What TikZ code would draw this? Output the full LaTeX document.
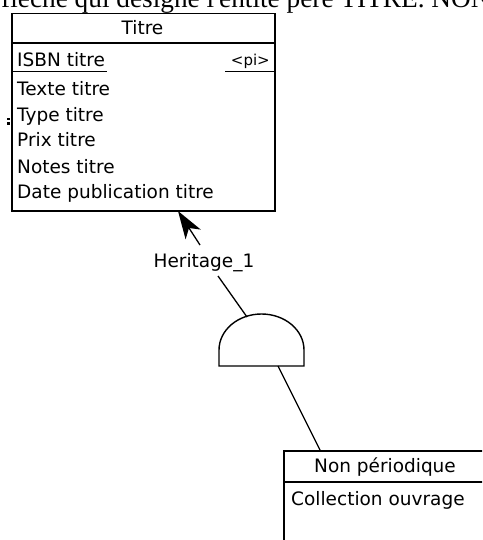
\documentclass[tikz,border=0pt]{standalone}
\usepackage{fontspec}
\setmainfont{DejaVu Sans}
\newfontfamily\docfont{Liberation Serif}
\tikzset{
  entity/.style={draw, line width=1.5pt, rectangle, inner sep=0pt, anchor=north west},
  attr/.style={anchor=base west, inner sep=0pt, font=\fontsize{18.5}{20}\selectfont},
  ttl/.style={anchor=base, inner sep=0pt, font=\fontsize{18.5}{20}\selectfont},
  link/.style={line width=1.3pt},
  sep/.style={line width=1.5pt},
}
\begin{document}
\begin{tikzpicture}[x=1pt,y=-1pt]
\useasboundingbox (0,0) rectangle (482,540);
\clip (0,0) rectangle (482,540);
\fill[white] (0,0) rectangle (482,540);
% cut-off document text
\node[anchor=base west, inner sep=0pt, font=\docfont\fontsize{27.3}{29}\selectfont] (doc) at (1,8) {flèche qui désigne l'entité père TITRE. NON};
% Titre entity
\node[entity, minimum width=263pt, minimum height=197pt] (titre) at (11,13) {};
\draw[sep] (11,43) -- (274,43);
\node[ttl] (titreh) at (142.5,35) {Titre};
\node[attr] (a1) at (17,67) {ISBN titre};
\draw[line width=1.2pt] (11,71.5) -- (107,71.5);
\node[anchor=base east, inner sep=0pt, font=\fontsize{15}{17}\selectfont] (pi) at (270,66) {<pi>};
\draw[line width=1.2pt] (225,71.5) -- (274,71.5);
\node[attr] (a2) at (17,96) {Texte titre};
\node[attr] (a3) at (17,122) {Type titre};
\node[attr] (a4) at (17,147) {Prix titre};
\node[attr] (a5) at (17,173) {Notes titre};
\node[attr] (a6) at (17,198) {Date publication titre};
\fill (7,118) rectangle (9.5,120.5);
\fill (7,122.5) rectangle (9.5,125);
% inheritance
\node[ttl] (lab) at (204,267) {Heritage\_1};
\coordinate (tip) at (178,211);
\coordinate (atail) at (200,245);
\coordinate (ain) at (189,228);
\coordinate (aw1) at (200.8,229.6);
\coordinate (aw2) at (185.6,239.4);
\draw[link] (atail) -- (ain);
\fill (tip) -- (aw1) -- (ain) -- (aw2) -- cycle;
\coordinate (inhl) at (219,366);
\draw[line width=1.4pt] (inhl) -- (219,350) arc[start angle=180, end angle=360, x radius=42.5, y radius=36] -- (304,366) -- cycle;
\coordinate (inhtop) at (247,317);
\coordinate (inhbase) at (278,366);
\coordinate (labl) at (218,276);
\draw[link] (labl) -- (inhtop);
% Non periodique entity
\node[entity, minimum width=210pt, minimum height=120pt] (np) at (283,450) {};
\draw[sep] (283,482) -- (490,482);
\node[ttl] (nph) at (385,472) {Non périodique};
\node[attr] (b1) at (291,505) {Collection ouvrage};
\coordinate (nptop) at (320,450);
\draw[link] (inhbase) -- (nptop);
\end{tikzpicture}
\end{document}
